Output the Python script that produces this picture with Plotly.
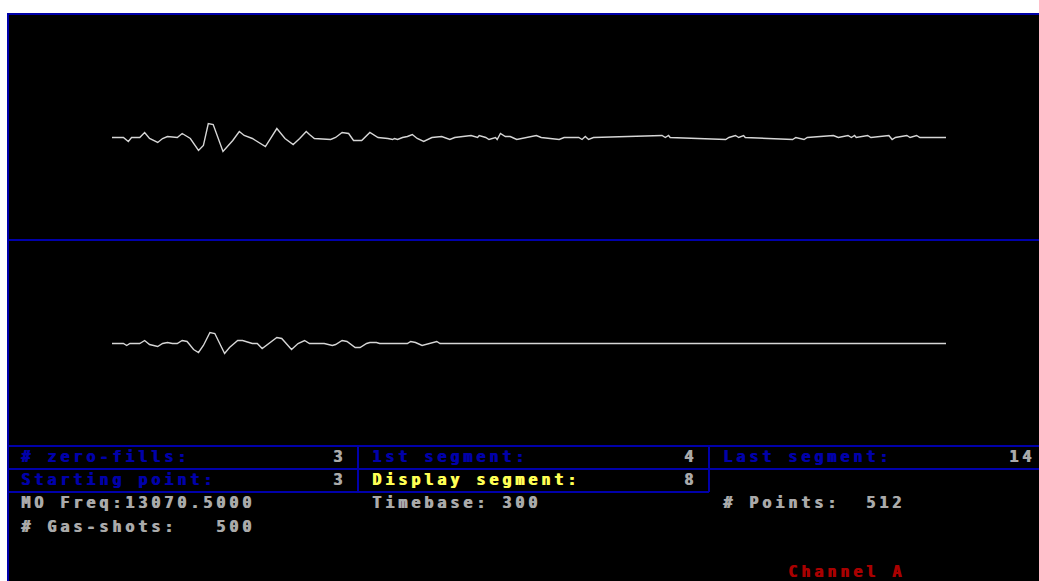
import plotly.graph_objects as go

W, H = 1039, 581

# ---- Channel A, acquisition display: key samples (index, amplitude in counts) ----
N_POINTS = 512

seg_a_idx = [0, 7, 10, 12, 17, 20, 23, 28, 31, 34, 40, 43, 48, 53, 56, 59, 62, 68, 74, 78,
             81, 86, 94, 101, 106, 111, 115, 119, 121, 124, 134, 137, 141, 145, 148, 153,
             158, 163, 169, 172, 173, 175, 178, 181, 184, 187, 191, 196, 202, 207, 210,
             220, 224, 225, 229, 231, 235, 236, 238, 241, 244, 248, 260, 263, 274, 277,
             286, 288, 290, 292, 295, 337, 339, 341, 342, 376, 378, 382, 384, 387, 388,
             417, 419, 424, 426, 442, 445, 451, 453, 455, 456, 463, 465, 476, 478, 480,
             487, 489, 493, 495, 511]
seg_a_amp = [0, 0, -4, 0, 0, 5, -1, -5, -1, 1, 0, 4, -1, -13, -8, 14, 13, -14, -3, 6,
             2, -1, -9, 9, -1, -7, -1, 6, 3, -1, -2, 0, 5, 4, -3, -3,
             5, 0, -1, -2, -1, -2, 0, 1, 3, -1, -4, 0, 1, -2, 0,
             2, 0, 2, 0, -2, 0, -2, 4, 1, 1, -2, 2, 0, -2, 0,
             0, -2, 1, -2, 0, 2, 0, 2, 0, -2, 0, 2, 0, 2, 0,
             -2, 0, -2, 0, 2, 0, 2, 0, 2, 0, 2, 0, 2, -2, 0,
             2, 0, 2, 0, 0]

seg_b_idx = [0, 7, 9, 11, 17, 20, 23, 28, 31, 34, 37, 40, 43, 46, 50, 53, 56, 60, 63, 69,
             72, 77, 80, 86, 89, 92, 101, 104, 110, 114, 118, 121, 130, 135, 137, 141,
             144, 149, 152, 156, 158, 162, 164, 181, 183, 186, 190, 194, 199, 201, 511]
seg_b_amp = [0, 0, -2, 0, 0, 3, -1, -3, 0, 1, 0, 0, 3, 2, -6, -9, -2, 11, 10, -10,
             -4, 3, 3, 0, 0, -5, 6, 5, -6, 0, 3, 0, 0, -2, -1, 3,
             2, -4, -4, 0, 1, 1, 0, 0, 2, 1, -2, 0, 2, 0, 0]

# ---- status table text ----
row1_labels = ["# zero-fills:", "1st segment:", "Last segment:"]
row1_values = ["3", "4", "14"]
row2_labels = ["Starting point:", "Display segment:"]
row2_values = ["3", "8"]
info_left = ["MO Freq:13070.5000", "# Gas-shots:   500"]
info_mid = ["Timebase: 300"]
info_right = ["# Points:  512"]
channel_name = "Channel A"

# ---- screen geometry (pixels) ----
SCR_X0, SCR_Y0 = 7, 13
CELL = 13                      # character cell width
TRACE_X0, TRACE_X1 = 112, 946  # horizontal extent of a 512-point trace
PX_PER_PT = (TRACE_X1 - TRACE_X0) / (N_POINTS - 1)

BLUE = "#0000aa"
GREY = "#aaaaaa"
YELLOW = "#ffff55"
RED = "#aa0000"
TRACE = "#d6d6d6"


def fx(x):
    return x / W


def fy(y):
    return 1 - y / H


def col_x(col):
    return SCR_X0 + CELL * col + 1


fig = go.Figure()
fig.add_trace(go.Scatter(x=seg_a_idx, y=seg_a_amp, mode="lines",
                         line=dict(color=TRACE, width=1.4), hoverinfo="skip",
                         xaxis="x", yaxis="y"))
fig.add_trace(go.Scatter(x=seg_b_idx, y=seg_b_amp, mode="lines",
                         line=dict(color=TRACE, width=1.4), hoverinfo="skip",
                         xaxis="x2", yaxis="y2"))

x_range = [(SCR_X0 - TRACE_X0) / PX_PER_PT, (W - TRACE_X0) / PX_PER_PT]
top_base, bot_base = 137.5, 343.5
ax_common = dict(visible=False, showgrid=False, zeroline=False, fixedrange=True)

shapes = [
    dict(type="rect", xref="paper", yref="paper", x0=fx(SCR_X0), x1=1, y0=0, y1=fy(SCR_Y0),
         fillcolor="black", line=dict(width=0), layer="below"),
]


def hline(y, x0, x1):
    shapes.append(dict(type="line", xref="paper", yref="paper", x0=fx(x0), x1=fx(x1),
                       y0=fy(y), y1=fy(y), line=dict(color=BLUE, width=2), layer="above"))


def vline(x, y0, y1):
    shapes.append(dict(type="line", xref="paper", yref="paper", x0=fx(x), x1=fx(x),
                       y0=fy(y0), y1=fy(y1), line=dict(color=BLUE, width=2), layer="above"))


hline(14, SCR_X0, W)
vline(8, SCR_Y0, H)
hline(240, SCR_X0, W)
hline(446, SCR_X0, W)
hline(469, SCR_X0, W)
hline(492, SCR_X0, 709)
vline(358, 446, 492)
vline(709, 446, 492)

annotations = []


def put(text, col, y, color):
    annotations.append(dict(text=text, x=fx(col_x(col)), y=fy(y), xref="paper", yref="paper",
                            xanchor="left", yanchor="middle", align="left", showarrow=False,
                            borderpad=0, borderwidth=0,
                            font=dict(family="DejaVu Sans Mono", size=15, color=color,
                                      weight="bold", shadow=f"1px 0px 0px {color}")))


label_cols = [1, 28, 55]
value_cols = [25, 52, 77]
for lab, val, lc, vc in zip(row1_labels, row1_values, label_cols, value_cols):
    put(lab, lc, 457, BLUE)
    put(val, vc, 457, GREY)
put(row2_labels[0], label_cols[0], 480, BLUE)
put(row2_values[0], value_cols[0], 480, GREY)
put(row2_labels[1], label_cols[1], 480, YELLOW)
put(row2_values[1], value_cols[1], 480, GREY)
put(info_left[0], 1, 503, GREY)
put(info_left[1], 1, 527, GREY)
put(info_mid[0], 28, 503, GREY)
put(info_right[0], 55, 503, GREY)
put(channel_name, 60, 572, RED)

fig.update_layout(
    width=W, height=H, autosize=False,
    margin=dict(l=0, r=0, t=0, b=0),
    paper_bgcolor="white", plot_bgcolor="rgba(0,0,0,0)",
    showlegend=False,
    xaxis=dict(domain=[fx(SCR_X0), 1], range=x_range, anchor="y", **ax_common),
    yaxis=dict(domain=[fy(240), fy(15)], range=[top_base - 240, top_base - 15], anchor="x",
               **ax_common),
    xaxis2=dict(domain=[fx(SCR_X0), 1], range=x_range, anchor="y2", **ax_common),
    yaxis2=dict(domain=[fy(446), fy(241)], range=[bot_base - 446, bot_base - 241], anchor="x2",
                **ax_common),
    shapes=shapes,
    annotations=annotations,
)

# widen the character pitch to the 13 px text-mode cell
letter_css = ("var s=document.createElement('style');"
              "s.textContent='.annotation-text{letter-spacing:3.97px}';"
              "document.head.appendChild(s);")

fig.write_html("out.html", post_script=letter_css, config={"displayModeBar": False})
